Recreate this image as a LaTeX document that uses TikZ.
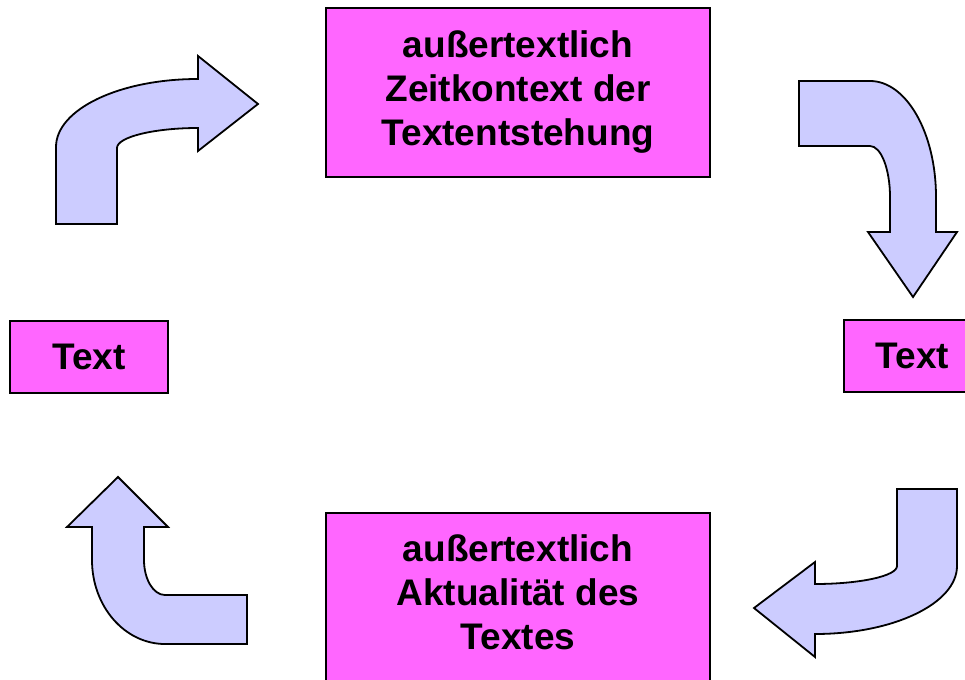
\documentclass[tikz,border=0pt]{standalone}
\usepackage{fontspec}
\setmainfont{Liberation Sans}
\definecolor{boxfill}{HTML}{FF66FF}
\definecolor{arrowfill}{HTML}{CCCCFF}
\begin{document}
\begin{tikzpicture}[x=1pt,y=-1pt,
  box/.style={draw=black, line width=1.8pt, fill=boxfill, inner sep=0pt, align=center,
    font=\fontsize{37}{44}\selectfont\bfseries},
  label/.style={inner sep=0pt, align=center, font=\fontsize{37}{44}\selectfont\bfseries},
  bentarrow/.style={draw=black, line width=1.8pt, fill=arrowfill, line join=miter}]
\useasboundingbox (0,0) rectangle (965,679);
% boxes
\node[box, minimum width=384pt, minimum height=169pt] (top) at (518,92.5)
  {außertextlich\\Zeitkontext der\\Textentstehung};
\node[box, minimum width=384pt, minimum height=169pt] (bottom) at (518,597.5) {};
\node[label] (bottomtext) at (518,592.5) {außertextlich\\Aktualität des\\Textes};
\node[box, minimum width=158pt, minimum height=72pt] (left) at (89,357) {Text};
\node[box, minimum width=137pt, minimum height=72pt] (right) at (912.5,356) {Text};
% arrow top-left
\draw[bentarrow] (56,224) -- (56,147) .. controls (56,109.5) and (119,79) .. (198,79)
  -- (198,56) -- (258,104) -- (198,151) -- (198,128)
  .. controls (154,128) and (117,137) .. (117,148) -- (117,224) -- cycle;
% arrow top-right
\draw[bentarrow] (799,81) -- (870,81) .. controls (906.4,81) and (936,133) .. (936,197)
  -- (936,232) -- (957,232) -- (913,297) -- (868,232) -- (890,232) -- (890,197)
  .. controls (890,169) and (881,146) .. (870,146) -- (799,146) -- cycle;
% arrow bottom-right
\draw[bentarrow] (897,489) -- (957,489) -- (957,566) .. controls (957,603.5) and (893.4,634) .. (815,634)
  -- (815,657) -- (754,608) -- (815,562) -- (815,584)
  .. controls (860,584) and (897,576) .. (897,566) -- cycle;
% arrow bottom-left
\draw[bentarrow] (247,595) -- (247,644) -- (165,644) .. controls (124.7,644) and (92,606.4) .. (92,560)
  -- (92,527) -- (67,527) -- (118,477) -- (168,527) -- (144,527) -- (144,560)
  .. controls (144,579.3) and (153.4,595) .. (165,595) -- cycle;
\end{tikzpicture}
\end{document}
